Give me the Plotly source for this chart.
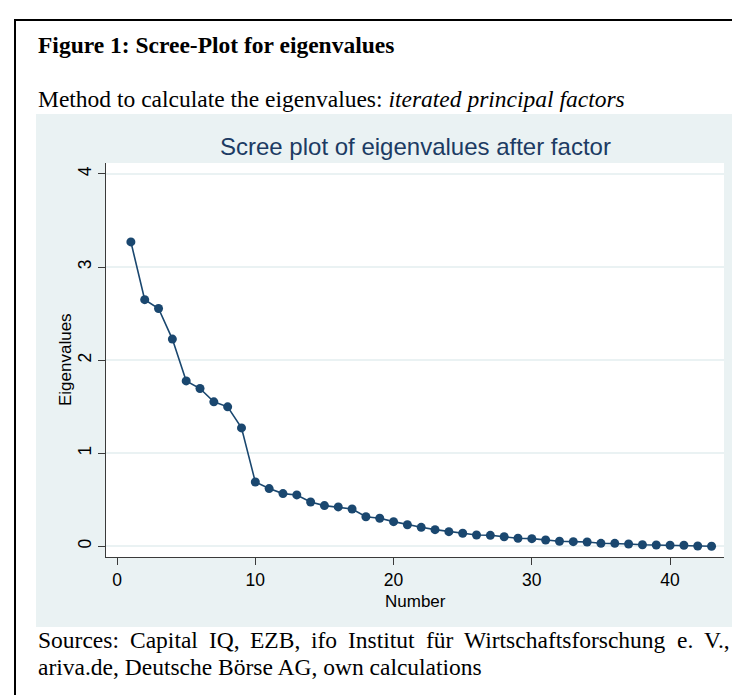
import plotly.graph_objects as go

# ---------------- data ----------------
numbers = list(range(1, 44))
eigenvalues = [3.27, 2.65, 2.555, 2.226, 1.777, 1.695, 1.552, 1.498, 1.272,
               0.691, 0.62, 0.566, 0.552, 0.476, 0.437, 0.423, 0.401, 0.318,
               0.301, 0.265, 0.232, 0.204, 0.179, 0.157, 0.14, 0.121, 0.118,
               0.103, 0.086, 0.082, 0.068, 0.054, 0.05, 0.046, 0.032, 0.032,
               0.025, 0.017, 0.014, 0.011, 0.011, 0.003, 0.0]
x_tick_values = [0, 10, 20, 30, 40]
y_tick_values = [0, 1, 2, 3, 4]

fig_title = "<b>Figure 1: Scree-Plot for eigenvalues</b>"
method_text = "Method to calculate the eigenvalues: <i>iterated principal factors</i>"
chart_title = "Scree plot of eigenvalues after factor"
x_title = "Number"
y_title = "Eigenvalues"
source_line1 = "Sources: Capital IQ, EZB, ifo Institut für Wirtschaftsforschung e. V.,"
source_line2 = "ariva.de, Deutsche Börse AG, own calculations"

# ---------------- styling ----------------
W, H = 740, 695
L, R, T, B = 98, 716, 155, 549
NAVY = "#1A476F"
PANEL = "#EAF2F3"
AXIS = "#3a3a3a"
SERIF = "Liberation Serif"
SANS = "Liberation Sans"
SERIF_SIZE = 23.5


def px_x(px):
    return (px - L) / (R - L)


def px_y(py):
    return (B - py) / (B - T)


# Times (Liberation Serif) advance widths per 1000 em, for justification
TIMES = {"S": 556, "o": 500, "u": 500, "r": 333, "c": 444, "e": 444, "s": 389,
         ":": 278, "C": 667, "a": 444, "p": 500, "i": 278, "t": 278, "l": 278,
         "I": 333, "Q": 722, ",": 250, "E": 611, "Z": 611, "B": 667, "f": 333,
         "n": 500, "ü": 500, "W": 944, "h": 500, "g": 500, ".": 250, "V": 722}


def word_width(w, size):
    return sum(TIMES.get(ch, 500) for ch in w) * size / 1000.0


fig = go.Figure(go.Scatter(
    x=numbers, y=eigenvalues, mode="lines+markers",
    line=dict(color=NAVY, width=1.6),
    marker=dict(size=9, color=NAVY),
    cliponaxis=False, hoverinfo="x+y"))

shapes = [
    dict(type="rect", xref="paper", yref="paper", x0=px_x(28), x1=px_x(734),
         y0=px_y(619), y1=px_y(106), fillcolor=PANEL, line=dict(width=0), layer="below"),
    dict(type="rect", xref="paper", yref="paper", x0=0, x1=1, y0=0, y1=1,
         fillcolor="white", line=dict(width=0), layer="below"),
    dict(type="line", xref="paper", yref="paper", x0=px_x(6), x1=px_x(741),
         y0=px_y(12), y1=px_y(12), line=dict(color="black", width=2)),
    dict(type="line", xref="paper", yref="paper", x0=px_x(7), x1=px_x(7),
         y0=px_y(11), y1=px_y(700), line=dict(color="black", width=2)),
]

annotations = [
    dict(text=fig_title, x=px_x(28), y=px_y(37.3), xanchor="left", yanchor="middle",
         font=dict(family=SERIF, size=SERIF_SIZE, color="black")),
    dict(text=method_text, x=px_x(28), y=px_y(91.3), xanchor="left", yanchor="middle",
         font=dict(family=SERIF, size=SERIF_SIZE, color="black")),
    dict(text=chart_title, x=0.5, y=px_y(138.4), xanchor="center", yanchor="middle",
         font=dict(family=SANS, size=24, color="#1C3B63")),
    dict(text=x_title, x=0.5, y=px_y(593), xanchor="center", yanchor="middle",
         font=dict(family=SANS, size=17, color="black")),
    dict(text=y_title, x=px_x(57), y=0.5, xanchor="center", yanchor="middle",
         textangle=-90, font=dict(family=SANS, size=17, color="black")),
    dict(text=source_line2, x=px_x(28), y=px_y(659), xanchor="left", yanchor="middle",
         font=dict(family=SERIF, size=SERIF_SIZE, color="black")),
]

# justified first source line
words = source_line1.split(" ")
left_px, right_px = 29, 724
widths = [word_width(w, SERIF_SIZE) for w in words]
gap = (right_px - left_px - sum(widths)) / (len(words) - 1)
cur = left_px
for w, wd in zip(words, widths):
    annotations.append(dict(text=w, x=px_x(cur - 1), y=px_y(631.6), xanchor="left",
                            yanchor="middle",
                            font=dict(family=SERIF, size=SERIF_SIZE, color="black")))
    cur += wd + gap

for a in annotations:
    a.update(xref="paper", yref="paper", showarrow=False)

fig.update_layout(
    width=W, height=H,
    margin=dict(l=L, r=W - R, t=T, b=H - B, pad=0),
    paper_bgcolor="white", plot_bgcolor="rgba(0,0,0,0)",
    showlegend=False, shapes=shapes, annotations=annotations,
    xaxis=dict(range=[-0.8, 43.9], tickvals=x_tick_values, ticks="outside",
               ticklen=7, tickwidth=1.2, tickcolor=AXIS, showline=True,
               linecolor=AXIS, linewidth=1.2, showgrid=False, zeroline=False,
               tickfont=dict(family=SANS, size=17.5, color="black")),
    yaxis=dict(range=[-0.115, 4.118], tickvals=y_tick_values, ticks="outside",
               ticklen=7, tickwidth=1.2, tickcolor=AXIS, showline=True,
               linecolor=AXIS, linewidth=1.2, showgrid=True, gridcolor=PANEL,
               gridwidth=1.5, zeroline=False, tickangle=-90,
               tickfont=dict(family=SANS, size=17.5, color="black")),
)

fig.write_html("out.html")
